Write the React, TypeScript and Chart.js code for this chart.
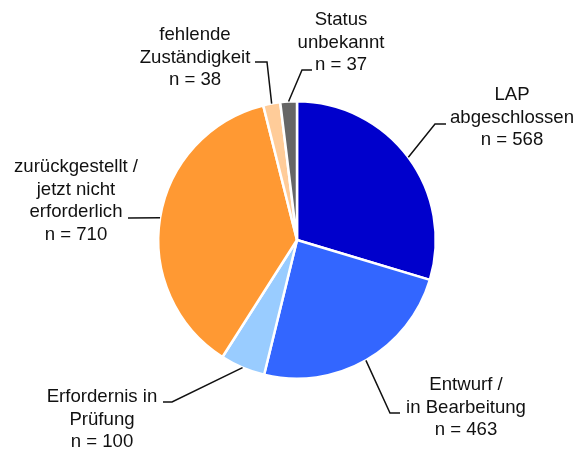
import React, { useEffect, useRef } from "react";
import { Chart, registerables } from "chart.js";

Chart.register(...registerables);

// ---- data ----
const categories: string[][] = [
  ["LAP", "abgeschlossen"],
  ["Entwurf /", "in Bearbeitung"],
  ["Erfordernis in", "Prüfung"],
  ["zurückgestellt /", "jetzt nicht", "erforderlich"],
  ["fehlende", "Zuständigkeit"],
  ["Status", "unbekannt"],
];
const counts: number[] = [568, 463, 100, 710, 38, 37];
const colors: string[] = ["#0000CC", "#3366FF", "#99CCFF", "#FF9933", "#FFCC99", "#666666"];

// ---- label layout (offsets from the pie centre, px) ----
// text: centre x, first-line centre y; elbow and end: leader-line points
const labelLayout = [
  { tx: 215, ty: -145, elbow: [138, -116], end: [149, -116] },
  { tx: 169, ty: 145, elbow: [93, 173], end: [103, 173] },
  { tx: -195, ty: 157, elbow: [-125, 162], end: [-134, 162] },
  { tx: -221, ty: -73, elbow: [-169, -22], end: [-169, -22] },
  { tx: -102, ty: -205, elbow: [-30, -178], end: [-42, -178] },
  { tx: 44, ty: -220, elbow: [5, -170], end: [15, -170] },
];
const LINE_H = 22.5;

const labelPlugin = {
  id: "leaderLabels",
  afterDraw(chart: any) {
    const ctx = chart.ctx;
    const meta = chart.getDatasetMeta(0);
    ctx.save();
    ctx.font = "18.6px 'Liberation Sans', Arial, sans-serif";
    ctx.fillStyle = "#111111";
    ctx.textAlign = "center";
    ctx.textBaseline = "middle";
    ctx.strokeStyle = "#111111";
    ctx.lineWidth = 1.5;
    meta.data.forEach((arc: any, i: number) => {
      const { x, y, startAngle, endAngle, outerRadius } = arc.getProps(
        ["x", "y", "startAngle", "endAngle", "outerRadius"],
        true
      );
      const mid = (startAngle + endAngle) / 2;
      const px = x + Math.cos(mid) * outerRadius;
      const py = y + Math.sin(mid) * outerRadius;
      const L = labelLayout[i];
      ctx.beginPath();
      ctx.moveTo(px, py);
      ctx.lineTo(x + L.elbow[0], y + L.elbow[1]);
      ctx.lineTo(x + L.end[0], y + L.end[1]);
      ctx.stroke();
      const lines = [...categories[i], "n = " + counts[i]];
      lines.forEach((t, k) => {
        ctx.fillText(t, x + L.tx, y + L.ty + k * LINE_H);
      });
    });
    ctx.restore();
  },
};

export default function App() {
  const ref = useRef<HTMLCanvasElement>(null);
  useEffect(() => {
    const chart = new Chart(ref.current!, {
      type: "pie",
      data: {
        labels: categories.map((c) => c.join(" ")),
        datasets: [
          {
            data: counts,
            backgroundColor: colors,
            borderColor: "#ffffff",
            borderWidth: 2.5,
          },
        ],
      },
      options: {
        responsive: false,
        animation: false,
        layout: { padding: { left: 157, right: 143, top: 100, bottom: 70 } },
        plugins: {
          legend: { display: false },
          tooltip: { enabled: false },
        },
      },
      plugins: [labelPlugin],
    });
    return () => chart.destroy();
  }, []);
  return (
    <div style={{ position: "fixed", left: 0, top: 0, width: 580, height: 450, background: "#fff" }}>
      <canvas ref={ref} width={580} height={450} />
    </div>
  );
}
